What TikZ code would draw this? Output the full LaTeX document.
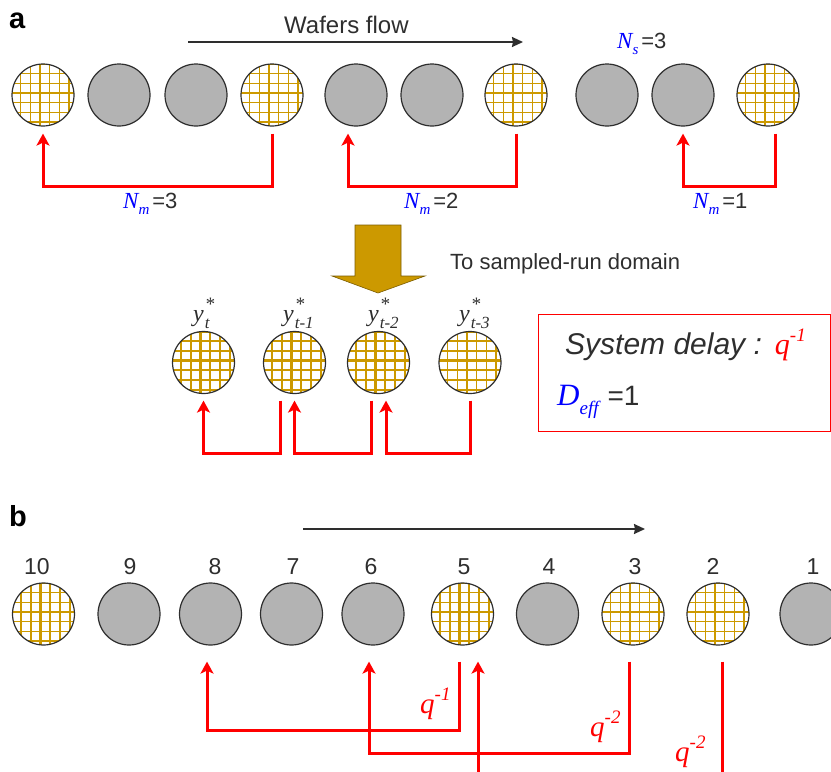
\documentclass[tikz,border=0pt]{standalone}
\usepackage{fontspec}
\setmainfont{Liberation Sans}
\newfontfamily\tms{Liberation Serif}
\usetikzlibrary{arrows.meta}
\definecolor{dk}{HTML}{2E2E2E}
\definecolor{gfill}{HTML}{B3B3B3}
\definecolor{gold}{HTML}{CC9900}
\definecolor{goldd}{HTML}{7A5C00}
\definecolor{rd}{HTML}{FF0000}
\definecolor{bl}{HTML}{0000FF}
\newcommand{\fs}[1]{\fontsize{#1}{#1}\selectfont}
\newcommand{\Nlab}[2]{{\tms\itshape\color{bl}\fs{23}N\raisebox{-0.3em}{\fs{15}#1}}\kern3pt{\fs{22}=#2}}
\newcommand{\ylab}[1]{{\tms\itshape\fs{24}y\kern1pt\makebox[0pt][l]{\raisebox{0.42em}{\fs{19}*}}\raisebox{-0.3em}{\fs{17}#1}}}
\newcommand{\qlab}[1]{{\tms\itshape\color{rd}\fs{29}q\raisebox{0.42em}{\fs{19}#1}}}
\tikzset{
 wafer/.style={circle, minimum size=62pt, inner sep=0pt, draw=dk, line width=1.2pt},
 gw/.style={wafer, fill=gfill},
 pw/.style={wafer, fill=white, path picture={
   \foreach \k/\w in {-4/1.5,-3/2.2,-2/1.5,-1/1.5,0/2.6,1/1.5,2/1.5,3/2.2,4/1.5}{
     \draw[gold, line width=\w pt] ([xshift=\k*9.7pt-3pt]path picture bounding box.center) ++(0pt,-40pt) -- ++(0pt,80pt);
     \draw[gold, line width=\w pt] ([yshift=\k*9.7pt+2pt]path picture bounding box.center) ++(-40pt,0pt) -- ++(80pt,0pt);
   }}},
 rarr/.style={draw=rd, line width=3pt, -{Stealth[length=12pt,width=13pt,inset=3pt]}},
 rline/.style={draw=rd, line width=3pt},
 flow/.style={draw=dk, line width=1.8pt, -{Stealth[length=11pt,width=10pt,inset=1pt]}},
 lab/.style={text=dk, font=\fs{22}, inner sep=0pt, anchor=base west},
 num/.style={text=dk, font=\fs{23}, inner sep=0pt, anchor=base},
 panel/.style={text=black, font=\fs{29}\bfseries, inner sep=0pt, anchor=base west},
}
\begin{document}
\begin{tikzpicture}[x=1pt,y=-1pt]
\useasboundingbox (0,0) rectangle (831,772);
% ---------- panel a ----------
\node[panel] (pa) at (9,28) {a};
\node[lab, font=\fs{24}] (tflow) at (284,33) {Wafers flow};
\coordinate (fa1) at (188,42);
\coordinate (fa2) at (523,42);
\draw[flow] (fa1) -- (fa2);
\node[lab] (ns) at (617,48) {\Nlab{s}{3}};
\foreach \n/\x/\s in {1/43/pw,2/119/gw,3/196/gw,4/272/pw,5/356/gw,6/432/gw,7/516/pw,8/607/gw,9/683/gw,10/768/pw}{
  \node[\s] (a\n) at (\x,95) {};
}
\draw[rarr] ([yshift=-7pt]a4.south) -- ++(0,53) -| ([yshift=-7pt]a1.south);
\draw[rarr] ([yshift=-7pt]a7.south) -- ++(0,53) -| ([xshift=-8pt,yshift=-7pt]a5.south);
\draw[rarr] ([xshift=7pt,yshift=-7pt]a10.south) -- ++(0,53) -| ([yshift=-7pt]a9.south);
\node[lab] (nm3) at (123,208) {\Nlab{m}{3}};
\node[lab] (nm2) at (404,208) {\Nlab{m}{2}};
\node[lab] (nm1) at (693,208) {\Nlab{m}{1}};
% big arrow
\draw[fill=gold, draw=goldd, line width=0.6pt] (355,225) -- (401,225) -- (401,276) -- (425,276) -- (378,293) -- (332,276) -- (355,276) -- cycle;
\node[lab] (tsr) at (450,269) {To sampled-run domain};
% sampled-run
\foreach \n/\x in {1/203.5,2/294.5,3/378.5,4/470}{
  \node[pw] (m\n) at (\x,362.5) {};
}
\node[lab] (y1) at (193,321) {\ylab{t}};
\node[lab] (y2) at (283,321) {\ylab{t-1}};
\node[lab] (y3) at (368,321) {\ylab{t-2}};
\node[lab] (y4) at (459,321) {\ylab{t-3}};
\draw[rarr] ([xshift=-14.5pt,yshift=-6.5pt]m2.south) -- ++(0,53) -| ([yshift=-6.5pt]m1.south);
\draw[rarr] ([xshift=-7.5pt,yshift=-6.5pt]m3.south) -- ++(0,53) -| ([yshift=-6.5pt]m2.south);
\draw[rarr] ([yshift=-6.5pt]m4.south) -- ++(0,53) -| ([xshift=7.5pt,yshift=-6.5pt]m3.south);
% system delay box
\node[draw=rd, line width=1.3pt, minimum width=292pt, minimum height=117pt, inner sep=0pt, anchor=north west] (box) at (538,314) {};
\node[lab, font=\fs{30}\itshape] (sd) at (565,354) {System delay :\kern13pt{\tms\color{rd}\fs{30}q\raisebox{0.42em}{\fs{19}-1}}};
\node[lab] (deff) at (557,405) {{\tms\itshape\color{bl}\fs{31}D\raisebox{-0.3em}{\fs{19}eff}}\kern9pt{\fs{28}=1}};
% ---------- panel b ----------
\node[panel] (pb) at (9,526) {b};
\coordinate (fb1) at (303,529);
\coordinate (fb2) at (645,529);
\draw[flow] (fb1) -- (fb2);
\foreach \n/\x/\s/\lx in {10/43.5/pw/37,9/129/gw/130,8/210.5/gw/215,7/291.5/gw/293,6/373/gw/371,5/462.5/pw/464,4/547.5/gw/549,3/633/pw/635,2/718/pw/713,1/811/gw/813}{
  \node[\s] (b\n) at (\x,614) {};
  \node[num] (n\n) at (\lx,574) {\n};
}
\draw[rarr] ([xshift=-3.5pt,yshift=-16pt]b5.south) -- ++(0,69) -| ([xshift=-3.5pt,yshift=-16pt]b8.south);
\draw[rarr] ([xshift=-4pt,yshift=-16pt]b3.south) -- ++(0,92) -| ([xshift=-4pt,yshift=-16pt]b6.south);
\coordinate (c1) at (478,775);
\draw[rarr] (c1) -- ([xshift=15.5pt,yshift=-16pt]b5.south);
\coordinate (c2) at (722,775);
\draw[rline] ([xshift=4pt,yshift=-16pt]b2.south) -- (c2);
\node[lab] (q1) at (420,713) {\qlab{-1}};
\node[lab] (q2) at (590,736) {\qlab{-2}};
\node[lab] (q3) at (675,761) {\qlab{-2}};
\end{tikzpicture}
\end{document}
